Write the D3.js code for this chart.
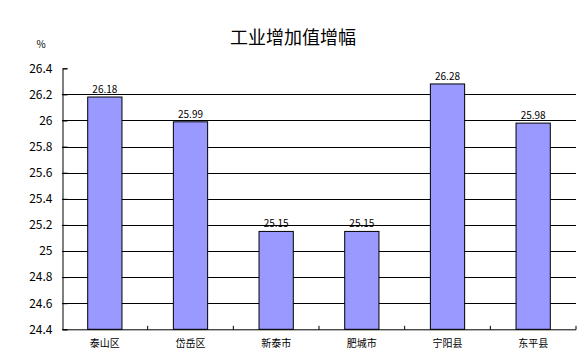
<!DOCTYPE html>
<html><head><meta charset="utf-8">
<script src="https://cdn.jsdelivr.net/npm/d3@7/dist/d3.min.js"></script>
<style>body{margin:0;background:#fff}svg{display:block}</style>
</head><body>
<svg id="c" width="587" height="361"></svg>
<script>
const categories = ["泰山区","岱岳区","新泰市","肥城市","宁阳县","东平县"];
const values = [26.18, 25.99, 25.15, 25.15, 26.28, 25.98];
const yTicks = [24.4,24.6,24.8,25,25.2,25.4,25.6,25.8,26,26.2,26.4];
const title = "工业增加值增幅";
const unit = "%";

const svg = d3.select("#c");
const L = 62, R = 576, T = 68.3, B = 329.3;
const font = "'Noto Sans CJK SC', 'DejaVu Sans', sans-serif";

const x = d3.scaleBand().domain(categories).range([L, R]).paddingInner(0.6).paddingOuter(0.3);
const xb = d3.scaleBand().domain(categories).range([L, R]);
const y = d3.scaleLinear().domain([24.4, 26.4]).range([B, T]);

// gridlines
svg.append("g").selectAll("line").data(yTicks.filter(t => t > 24.4 && t < 26.4)).join("line")
  .attr("x1", L).attr("x2", R).attr("y1", d => Math.round(y(d)) + 0.5).attr("y2", d => Math.round(y(d)) + 0.5)
  .attr("stroke", "#000").attr("stroke-width", 1);

// bars
svg.append("g").selectAll("rect").data(values).join("rect")
  .attr("x", (d, i) => x(categories[i]))
  .attr("width", x.bandwidth())
  .attr("y", d => y(d))
  .attr("height", d => B - y(d))
  .attr("fill", "#9999FF").attr("stroke", "#000").attr("stroke-width", 1);

// value labels
svg.append("g").selectAll("text").data(values).join("text")
  .attr("x", (d, i) => x(categories[i]) + x.bandwidth() / 2)
  .attr("y", d => y(d) - 4)
  .attr("text-anchor", "middle").attr("font-family", font).attr("font-size", 10)
  .text(d => d.toFixed(2));

// y axis
const yAxis = d3.axisLeft(y).tickValues(yTicks).tickSize(-5).tickPadding(10).tickFormat(d => d3.format("")(+d.toFixed(1)));
const gy = svg.append("g").attr("transform", `translate(${L + 0.5},0)`).call(yAxis);
gy.select(".domain").attr("stroke", "#000");
gy.selectAll(".tick line").attr("stroke", "#000");
gy.selectAll("text").attr("font-family", font).attr("font-size", 12).attr("fill", "#000");

// x axis
const gx = svg.append("g").attr("transform", `translate(0,${B + 0.5})`);
gx.append("line").attr("x1", L).attr("x2", R).attr("stroke", "#000");
gx.selectAll("line.t").data(categories.slice(1).concat(["__end"])).join("line").attr("class", "t")
  .attr("x1", (d, i) => i < categories.length - 1 ? xb(d) : R)
  .attr("x2", (d, i) => i < categories.length - 1 ? xb(d) : R)
  .attr("y1", 0).attr("y2", -4).attr("stroke", "#000");
gx.selectAll("text").data(categories).join("text")
  .attr("x", d => xb(d) + xb.bandwidth() / 2)
  .attr("y", 17)
  .attr("text-anchor", "middle").attr("font-family", font).attr("font-size", 10)
  .text(d => d);

// title & unit
svg.append("text").attr("x", 293).attr("y", 44).attr("text-anchor", "middle")
  .attr("font-family", font).attr("font-size", 18).text(title);
svg.append("text").attr("x", 41).attr("y", 48).attr("text-anchor", "middle")
  .attr("font-family", font).attr("font-size", 10).text(unit);
</script>
</body></html>
